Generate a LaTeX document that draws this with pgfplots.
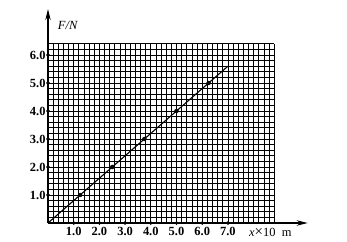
\documentclass[border=0pt]{standalone}
\usepackage{fontspec}
\setmainfont{Liberation Serif}
\usepackage{pgfplots}
\pgfplotsset{compat=1.18}
\usetikzlibrary{arrows.meta}
\begin{document}
\begin{tikzpicture}
\begin{axis}[
  x=25.7bp, y=28bp,
  xmin=0, xmax=8.8, ymin=0, ymax=6.4,
  axis line style={draw=none},
  clip=false,
  xtick={1,2,3,4,5,6,7}, ytick={1,2,3,4,5,6},
  minor xtick={0,0.2,...,8.81},
  minor ytick={0,0.2,...,6.41},
  grid=both,
  major grid style={black, line width=0.75bp},
  minor grid style={black, line width=0.75bp},
  major tick length=0pt, minor tick length=0pt,
  xticklabel style={font=\fontsize{12.5}{14}\selectfont\bfseries, yshift=-1bp},
  yticklabel style={font=\fontsize{12.5}{14}\selectfont\bfseries, xshift=1bp},
  /pgf/number format/assume math mode=true,
  /pgf/number format/fixed, /pgf/number format/fixed zerofill,
  /pgf/number format/precision=1,
]
% axes with arrows
\draw[line width=1.1bp, -{Stealth[length=11bp,width=5.5bp]}] (axis cs:0,0) -- (axis cs:0,7.64);
\draw[line width=1.1bp, -{Stealth[length=11bp,width=5.5bp]}] (axis cs:0,0) -- (axis cs:10.1,0);
% tick dots
\addplot[only marks, mark=*, mark size=1.6bp, black] coordinates {(1,0)(2,0)(3,0)(4,0)(5,0)(6,0)(7,0)};
\addplot[only marks, mark=*, mark size=1.6bp, black] coordinates {(0,1)(0,2)(0,3)(0,4)(0,5)(0,6)};
% line
\addplot[black, line width=1.1bp] coordinates {(0,0)(7.0,5.6)};
\addplot[only marks, mark=*, mark size=2bp, black] coordinates {(1.25,1)(2.5,2)(3.75,3)(5,4)(6.25,5)};
\node[anchor=west, font=\fontsize{12.5}{14}\selectfont\itshape] at (axis cs:0.25,7.05) {F/N};
\node[font=\fontsize{12.5}{14}\selectfont, anchor=base] at (axis cs:8.65,-0.47) {\textit{x}{\fontsize{15}{15}\selectfont×}10\ \ m};
\end{axis}
\path[use as bounding box] (-48bp,-19bp) rectangle (299bp,223bp);
\end{tikzpicture}
\end{document}
